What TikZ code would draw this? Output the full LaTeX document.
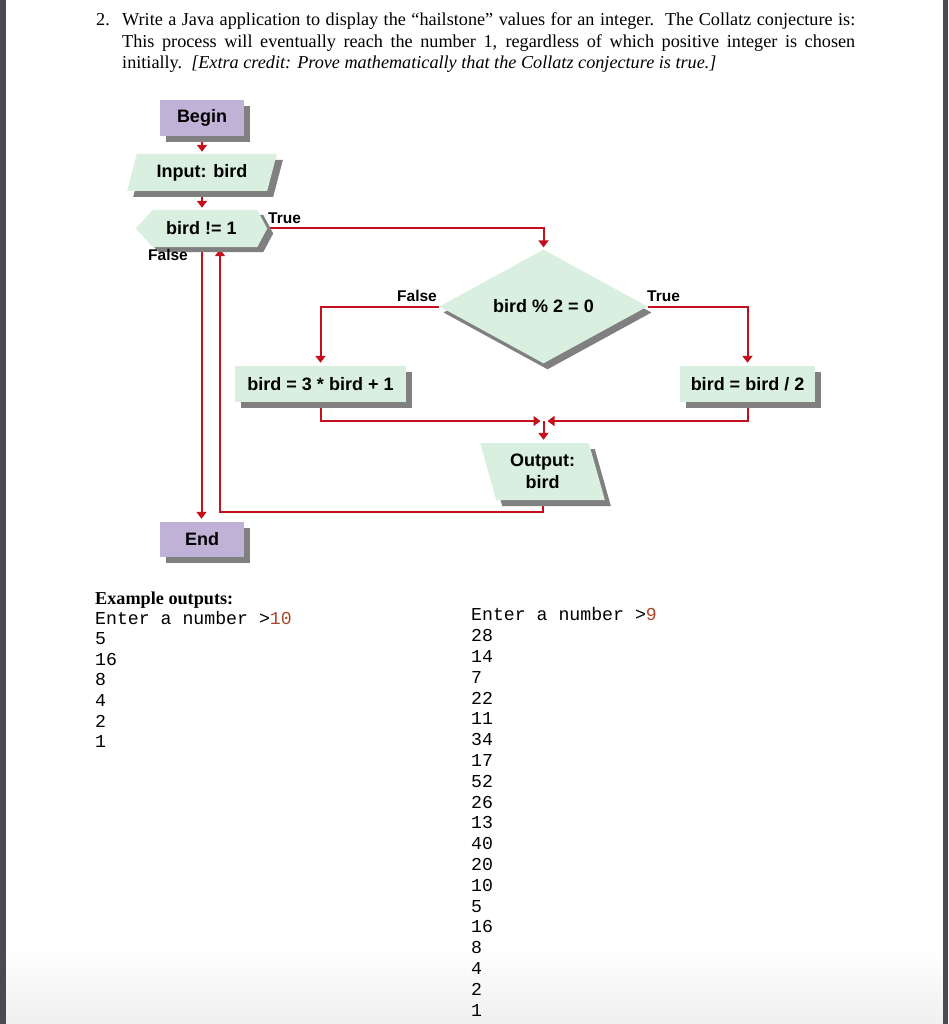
\documentclass[tikz,border=0pt]{standalone}
\usepackage{fontspec}
\setmainfont{Liberation Serif}
\newfontfamily\arialf{Liberation Sans}
\newfontfamily\monof{Liberation Mono}
\usetikzlibrary{shapes.geometric,shadows,arrows.meta,calc}
\definecolor{lineRed}{RGB}{196,16,28}
\definecolor{boxGreen}{RGB}{217,239,223}
\definecolor{boxPurple}{RGB}{192,178,214}
\definecolor{shadowGray}{RGB}{128,128,128}
\definecolor{inputRed}{RGB}{168,72,40}
\definecolor{edgeGray}{RGB}{72,76,80}
\pgfdeclarelayer{bg}
\pgfdeclarelayer{lines}
\pgfdeclarelayer{shapesl}
\pgfsetlayers{bg,lines,shapesl,main}
\begin{document}
\begin{tikzpicture}[x=1pt,y=-1pt,
  shad/.style={general shadow={fill=shadowGray, shadow xshift=6pt, shadow yshift=-6pt}},
  flowtext/.style={font=\arialf\bfseries\fontsize{18}{22}\selectfont, text=black, align=center},
  termbox/.style={rectangle, fill=boxPurple, shad, flowtext, inner sep=0pt, minimum width=84pt, minimum height=36pt},
  procbox/.style={rectangle, fill=boxGreen, shad, flowtext, inner sep=0pt, minimum height=36pt},
  iobox/.style={trapezium, trapezium stretches=true, fill=boxGreen, shad, flowtext, inner sep=0pt},
  decbox/.style={diamond, fill=boxGreen, general shadow={fill=shadowGray, shadow xshift=4pt, shadow yshift=-6pt}, flowtext, inner sep=0pt},
  hextext/.style={rectangle, flowtext, inner sep=0pt},
  hexfill/.style={fill=boxGreen, general shadow={fill=shadowGray, shadow xshift=6pt, shadow yshift=-5pt}},
  conn/.style={draw=lineRed, line width=2pt, -{Triangle[width=10pt,length=7pt]}},
  lbl/.style={font=\arialf\bfseries\fontsize{15.5}{18}\selectfont, inner sep=0pt, anchor=base west},
  para/.style={font=\fontsize{18.2}{21.5}\selectfont, inner sep=0pt, anchor=base west},
  mono/.style={font=\monof\fontsize{18.2}{20.6}\selectfont, inner sep=0pt, anchor=base west, align=left}
]
\useasboundingbox (0,0) rectangle (948,1024);
\begin{pgfonlayer}{bg}
  \fill[white] (0,0) rectangle (948,1024);
  \shade[top color=white, bottom color=black!6] (6,950) rectangle (943,1024);
  \fill[edgeGray] (0,0) rectangle (6,1024);
  \fill[edgeGray] (943,0) rectangle (948,1024);
\end{pgfonlayer}

% title
\node[para] (num) at (96,26) {2.};
\node[para, text width=733pt, align=justify] (title) at (122,26)
 {Write a Java application to display the “hailstone” values for an integer.\ \ The Collatz conjecture is:\linebreak
  This process will eventually reach the number 1, regardless of which positive integer is chosen\linebreak
  initially.\ \ \textit{[Extra credit: Prove mathematically that the Collatz conjecture is true.]}};

% flowchart nodes
\node[termbox] (begin) at (202,118) {Begin};
\node[iobox, trapezium left angle=68, trapezium right angle=112, minimum width=150pt, minimum height=37pt] (input) at (202,172.5) {Input: bird};
\node[hextext, minimum width=131pt, minimum height=37pt] (dec1) at (201.5,228.5) {bird != 1};
\begin{pgfonlayer}{shapesl}
  \fill[hexfill] (dec1.west) -- ($(dec1.north west)+(17,0)$) -- ($(dec1.north east)+(-10,0)$) -- (dec1.east)
     -- ($(dec1.south east)+(-10,0)$) -- ($(dec1.south west)+(17,0)$) -- cycle;
\end{pgfonlayer}
\node[decbox, minimum width=208pt, minimum height=74pt] (dec2) at (543.5,306.5) {bird \% 2 = 0};
\node[procbox, minimum width=171pt] (odd) at (320.5,384) {bird = 3 * bird + 1};
\node[procbox, minimum width=135pt] (even) at (747.5,384) {bird = bird / 2};
\node[iobox, trapezium left angle=108, trapezium right angle=72, minimum width=125pt, minimum height=57pt] (out) at (542.5,471.5) {Output:\\bird};
\node[termbox, minimum height=35pt] (endn) at (202,539.5) {End};

\coordinate (merge) at (543.5,421);
\coordinate (loop) at (220,512);

% connectors
\begin{pgfonlayer}{lines}
  \draw[conn, shorten >=2pt] (begin.south) -- (input.north);
  \draw[conn, shorten >=2pt] (input.south) -- (input.south |- dec1.north);
  \draw[conn, shorten >=2pt] (dec1.east) -| (dec2.north);
  \draw[conn, shorten >=3pt] (dec2.west) -| (odd.north);
  \draw[conn, shorten >=3pt] (dec2.east) -| (even.north);
  \draw[conn] (odd.south) |- ($(merge)+(-3,0)$);
  \draw[conn] (even.south) |- ($(merge)+(4,0)$);
  \draw[conn, shorten >=3pt] (merge) -- (merge |- out.north);
  \draw[conn, shorten >=2pt] (out.south) |- (loop) -- (loop |- dec1.south);
  \draw[conn, shorten >=3pt] (dec1.south) -- (dec1.south |- endn.north);
\end{pgfonlayer}

% branch labels
\node[lbl] (t1) at (268,223) {True};
\node[lbl] (f1) at (148,260) {False};
\node[lbl] (f2) at (397,301) {False};
\node[lbl] (t2) at (647,301) {True};

% example outputs (base anchor of a multi-line node = last line)
\node[para, font=\bfseries\fontsize{18.2}{21}\selectfont] (ex) at (95,604) {Example outputs:};
\node[mono] (col1) at (95,747.6) {Enter a number >\textcolor{inputRed}{10}\\5\\16\\8\\4\\2\\1};
\node[mono, font=\monof\fontsize{18.2}{20.8}\selectfont] (col2) at (471,1016) {Enter a number >\textcolor{inputRed}{9}\\28\\14\\7\\22\\11\\34\\17\\52\\26\\13\\40\\20\\10\\5\\16\\8\\4\\2\\1};
\end{tikzpicture}
\end{document}
